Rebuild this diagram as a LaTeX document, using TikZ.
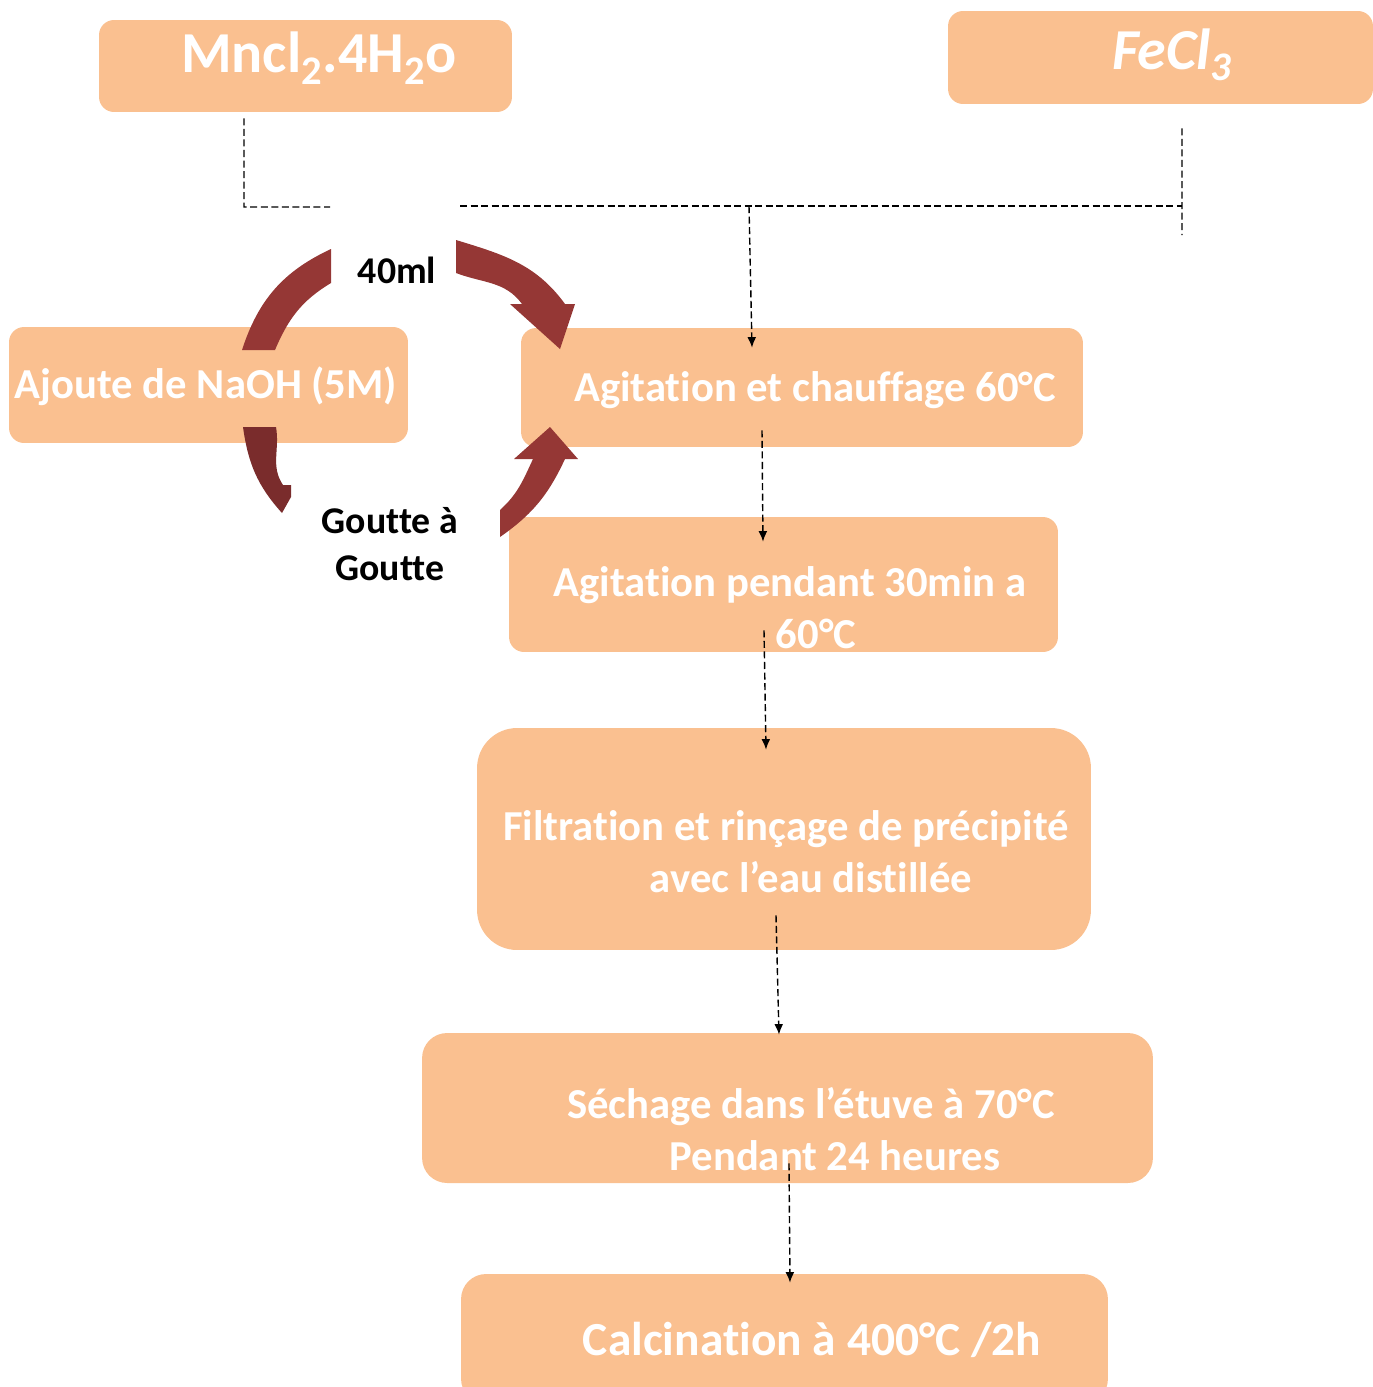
\documentclass[tikz,border=0pt]{standalone}
\usepackage{fontspec}
\setmainfont{Carlito}[Ligatures=NoCommon]
\usepackage{tikz}
\usetikzlibrary{arrows.meta}
\definecolor{peach}{HTML}{FAC090}
\definecolor{arrowred}{HTML}{953735}
\definecolor{arrowdark}{HTML}{7A2C2C}
\tikzstyle{box}=[fill=peach,rounded corners=0.3cm,inner sep=0pt]
\tikzstyle{boxtext}=[text=white,font=\bfseries\fontsize{24.3}{29.5}\selectfont,align=center,inner sep=0pt]

\begin{document}
\begin{tikzpicture}[x=0.02cm,y=0.02cm,
  feed/.style={line width=0.7pt,dash pattern=on 4pt off 2pt},
  flow/.style={line width=0.8pt,dash pattern=on 4pt off 2pt,-{Latex[length=6pt,width=5pt]}},
  note/.style={font=\bfseries\fontsize{21.5}{27}\selectfont,align=center,inner sep=0pt}]
\useasboundingbox (0,0) rectangle (1373,-1387);

% boxes
\node [box,minimum width=8.26cm,minimum height=1.84cm] (mncl) at (305.5,-66) {};
\node [box,minimum width=8.5cm,minimum height=1.86cm] (fecl) at (1160.5,-57.5) {};
\node [box,minimum width=7.98cm,minimum height=2.32cm] (naoh) at (208.5,-385) {};
\node [box,minimum width=11.24cm,minimum height=2.38cm] (agit1) at (802,-387.5) {};
\node [box,minimum width=10.98cm,minimum height=2.7cm] (agit2) at (783.5,-584.5) {};
\node [box,rounded corners=0.8cm,minimum width=12.28cm,minimum height=4.44cm] (filt) at (784,-839) {};
\node [box,rounded corners=0.5cm,minimum width=14.62cm,minimum height=3cm] (sech) at (787.5,-1108) {};
\node [box,rounded corners=0.5cm,minimum width=12.94cm,minimum height=2.6cm] (calc) at (784.5,-1339) {};

% texts
\node [boxtext,font=\bfseries\fontsize{33}{40}\selectfont] (mncl-t) at (319,-58) {Mncl\textsubscript{2}.4H\textsubscript{2}o};
\node [boxtext,font=\bfseries\itshape\fontsize{33}{40}\selectfont] (fecl-t) at (1172,-55) {FeCl\textsubscript{3}};
\node [boxtext] (naoh-t) at (206,-386) {Ajoute de NaOH (5M)};
\node [boxtext] (agit1-t) at (815,-390) {Agitation et chauffage 60°C};
\node [boxtext] (agit2-t) at (790,-608) {Agitation pendant 30min a\\\hspace*{1.04cm}60°C};
\node [boxtext] (filt-t) at (786,-852) {Filtration et rinçage de précipité\\\hspace*{1cm}avec l’eau distillée};
\node [boxtext] (sech-t) at (811,-1129) {Séchage dans l’étuve à 70°C\\\hspace*{0.96cm}Pendant 24 heures};
\node [boxtext,font=\bfseries\fontsize{27}{32}\selectfont] (calc-t) at (812,-1340) {Calcination à 400°C /2h};
\node [note] (vol) at (397,-270) {40ml};
\node [note] (drop) at (390,-544) {Goutte à\\Goutte};

% circular arrows
\fill[arrowred] (242,-350) to[out=72,in=205] (331,-249) -- (331,-283) to[out=211,in=67] (275,-350) -- cycle;
\fill[arrowred] (456,-240) to[out=-17,in=126] (565,-304) -- (575,-304) -- (560,-349) -- (510,-304) -- (522,-304) to[out=126,in=-21] (456,-273) -- cycle;
\fill[arrowdark] (243,-427) to[out=-82,in=132] (282,-513) -- (291,-497) -- (291,-485) -- (283,-485) to[out=124,in=-80] (276,-427) -- cycle;
\fill[arrowred] (500,-537) to[out=35,in=245] (565,-459) -- (578,-459) -- (550,-427) -- (514,-459) -- (533,-459) to[out=245,in=42] (500,-510) -- cycle;

% dashed connectors
\coordinate (mA) at ([xshift=-1.23cm,yshift=-0.12cm]mncl.south);
\coordinate (mB) at (244,-207);
\coordinate (gapL) at (330,-207);
\coordinate (gapR) at (460,-206);
\coordinate (fA) at ([xshift=0.43cm,yshift=-0.48cm]fecl.south);
\coordinate (fB) at (1182,-235);
\coordinate (junc) at (749,-206);
\draw[feed] (mA) -- (mB) -- (gapL);
\draw[feed] (gapR) -- (fA |- gapR);
\draw[feed] (fA) -- (fB);
\draw[flow] (junc) -- ([xshift=-1cm,yshift=-0.4cm]agit1.north);
\draw[flow] ([xshift=-0.8cm,yshift=0.34cm]agit1.south) -- ([xshift=-0.41cm,yshift=-0.5cm]agit2.north);
\draw[flow] ([xshift=-0.39cm,yshift=0.44cm]agit2.south) -- ([xshift=-0.36cm,yshift=-0.44cm]filt.north);
\draw[flow] ([xshift=-0.16cm,yshift=0.7cm]filt.south) -- ([xshift=-0.17cm,yshift=-0.04cm]sech.north);
\draw[flow] ([xshift=0.03cm,yshift=0.4cm]sech.south) -- ([xshift=0.11cm,yshift=-0.18cm]calc.north);
\end{tikzpicture}
\end{document}
